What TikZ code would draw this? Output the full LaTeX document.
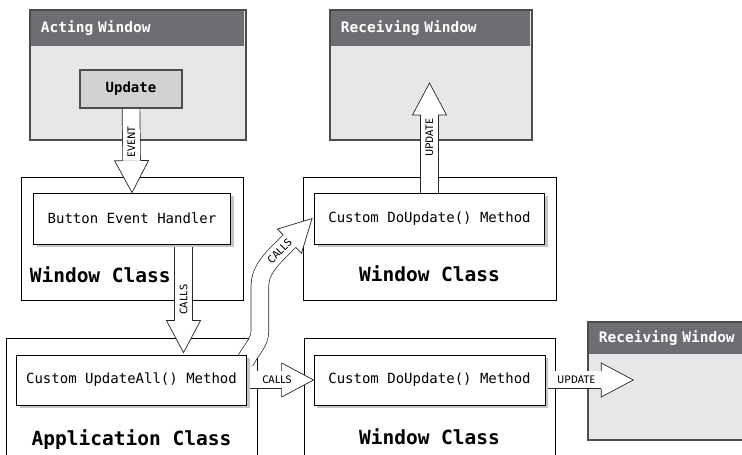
\documentclass[tikz,border=0pt]{standalone}
\usepackage{fontspec}
\setmonofont{DejaVu Sans Mono}
\newfontfamily\lblfont{Fira Sans}
\usetikzlibrary{positioning,calc,shadows,backgrounds}
\definecolor{winTitle}{HTML}{6D6E71}
\definecolor{winBody}{HTML}{E6E7E8}
\definecolor{btnFill}{HTML}{D1D2D4}
\definecolor{winEdge}{HTML}{4D4D4F}
\definecolor{boxShadow}{HTML}{C4C5C7}

\tikzset{
  window/.style={draw=winEdge,line width=1.5pt,fill=winBody,inner sep=0pt},
  wintitle/.style={fill=winTitle,text=white,anchor=north west,inner xsep=10pt,inner ysep=0pt,
    align=left,font=\ttfamily\bfseries\fontsize{14.5}{16}\selectfont},
  button/.style={draw=winEdge,line width=1.2pt,fill=btnFill,inner sep=0pt,
    minimum width=102pt,minimum height=38pt,font=\ttfamily\bfseries\fontsize{14}{16}\selectfont},
  classbox/.style={draw,line width=0.8pt,fill=white,inner sep=0pt},
  methodbox/.style={draw,line width=0.8pt,fill=white,inner sep=0pt,minimum height=51pt,
    font=\ttfamily\fontsize{14}{16}\selectfont,
    drop shadow={shadow xshift=3pt,shadow yshift=-3pt,fill=boxShadow,opacity=1}},
  classname/.style={inner sep=0pt,font=\ttfamily\bfseries\fontsize{19.5}{22}\selectfont},
  shaft/.style={draw=black!85,line width=0.7pt,double=white,double distance=17pt},
  arrowhead/.style={draw=black!85,fill=white,line width=0.7pt,line join=miter},
  flowlabel/.style={inner sep=0pt,font=\lblfont\fontsize{11}{12}\selectfont},
}

\def\headlen{32}
% white block arrow head at #2, pointing away from #1
\newcommand\blockhead[2]{%
  \path let \p1=($(#2)-(#1)$), \n1={atan2(\y1,\x1)} in \pgfextra{\xdef\headangle{\n1}};
  \filldraw[arrowhead,shift={(#2)},rotate=\headangle]
    (-\headlen,8.85) -- (-\headlen,17) -- (0,0) -- (-\headlen,-17) -- (-\headlen,-8.85);}
% straight block arrow: label options, from, to, label
\newcommand\blockarrow[4][midway]{%
  \draw[shaft] (#2) -- ($(#3)!\headlen pt!(#2)$);
  \blockhead{#2}{#3}
  \path (#2) -- (#3) node[flowlabel,#1] {#4};}

\begin{document}
\begin{tikzpicture}[x=1pt,y=1pt]
  \useasboundingbox (0,0) rectangle (742,455);

  % windows and class frames
  \begin{scope}[on background layer]
    \node[window,minimum width=216pt,minimum height=130pt] (aw) at (138,380) {};
    \node[wintitle,minimum height=35pt,text width=193pt] (awt)
      at ([shift={(1.5pt,-1.5pt)}]aw.north west) {Acting Window};
    \node[window,minimum width=202pt,minimum height=130pt] (rw1) at (431,380) {};
    \node[wintitle,minimum height=35pt,text width=179pt] (rw1t)
      at ([shift={(1.5pt,-1.5pt)}]rw1.north west) {Receiving Window};
    \node[window,minimum width=158pt,minimum height=118pt] (rw2) at (667,74) {};
    \node[wintitle,minimum height=31pt,text width=145pt] (rw2t)
      at ([shift={(1.5pt,-1.5pt)}]rw2.north west) {Receiving Window};

    \node[classbox,minimum width=222pt,minimum height=123pt] (wc1) at (132,216.5) {};
    \node[classbox,minimum width=253pt,minimum height=123pt] (wc2) at (429.5,216.5) {};
    \node[classbox,minimum width=251pt,minimum height=120pt] (ac) at (131.5,57) {};
    \node[classbox,minimum width=251pt,minimum height=120pt] (wc3) at (429.5,57) {};
  \end{scope}

  \node[button] (upd) at (131,366) {Update};

  \node[methodbox,minimum width=197pt,below=16pt of wc1.north] (bev) {Button Event Handler};
  \node[methodbox,minimum width=230pt,below=16pt of wc2.north] (du1) {Custom DoUpdate() Method};
  \node[methodbox,minimum width=230pt,minimum height=50pt,below=17pt of ac.north] (ual)
    {Custom UpdateAll() Method};
  \node[methodbox,minimum width=231pt,minimum height=50pt,below=17pt of wc3.north] (du2)
    {Custom DoUpdate() Method};

  \node[classname,anchor=base west] (wc1name) at ([shift={(9pt,18pt)}]wc1.south west) {Window Class};
  \node[classname,anchor=base] (wc2name) at ([yshift=19pt]wc2.south) {Window Class};
  \node[classname,anchor=base] (acname) at ([yshift=-40pt]ual.south) {Application Class};
  \node[classname,anchor=base] (wc3name) at ([yshift=-39pt]du2.south) {Window Class};

  \coordinate (callsTop) at ([xshift=51.5pt]bev.south);
  \coordinate (callsTip) at ([yshift=2pt]callsTop |- ual.north);
  \coordinate (updTip) at ([yshift=-8pt]du1.north |- rw1.center);
  \coordinate (updRight) at ([xshift=46pt]rw2.west |- du2.east);
  \coordinate (curveStart) at ([shift={(-2pt,-7pt)}]ual.north east);
  \coordinate (curveTip) at ([xshift=-2pt]du1.west);
  \coordinate (curveBack) at ($(curveTip)+(225:\headlen)$);

  % block arrows
  \begin{scope}[on background layer]
    \blockarrow[pos=0.4,rotate=90]{upd.south}{bev.north}{EVENT}
    \blockarrow[pos=0.51,rotate=90]{callsTop}{callsTip}{CALLS}
    \blockarrow[pos=0.5,rotate=90]{du1.north}{updTip}{UPDATE}
    \blockarrow[pos=0.45]{ual.east}{du2.west}{CALLS}
    \blockarrow[pos=0.35]{du2.east}{updRight}{UPDATE}

    \draw[shaft] (curveStart) .. controls +(62:14) and +(-90:12) .. ++(15,31)
      -- ++(0,44) .. controls +(90:18) and +(225:23) .. (curveBack);
    \blockhead{curveBack}{curveTip}
    \node[flowlabel,rotate=45] (callsCurve) at ($(curveTip)+(225:46)$) {CALLS};
  \end{scope}
\end{tikzpicture}
\end{document}
